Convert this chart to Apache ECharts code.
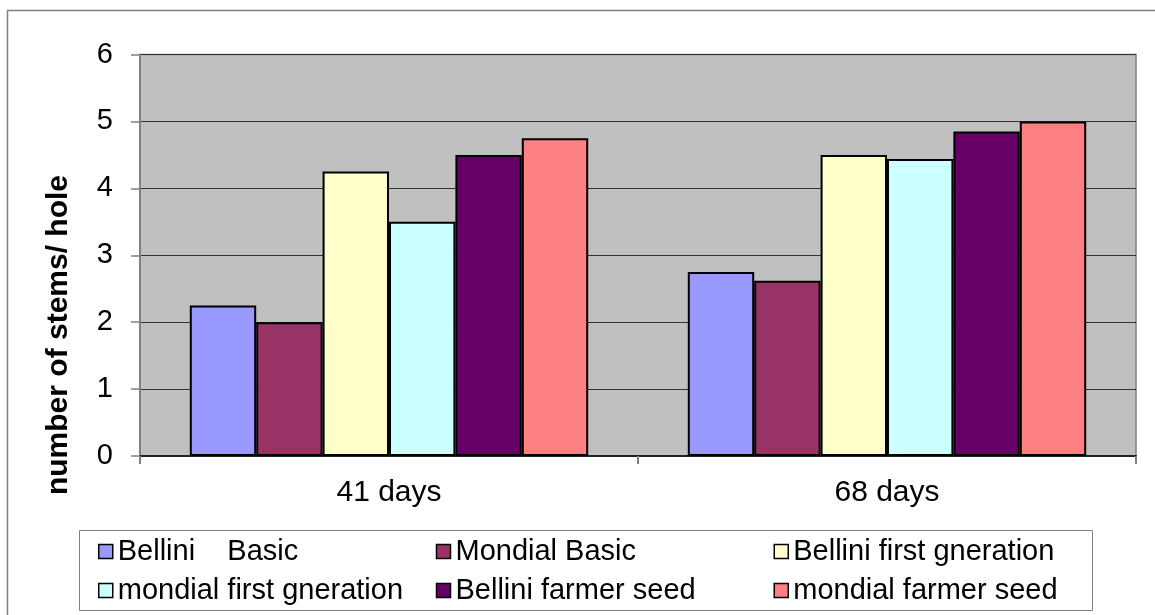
<!DOCTYPE html>
<html>
<head>
<meta charset="utf-8">
<script src="https://cdn.jsdelivr.net/npm/echarts@6/dist/echarts.min.js"></script>
<style>
 html, body { margin: 0; padding: 0; background: #fff; }
 #main { width: 1155px; height: 615px; }
</style>
</head>
<body>
<div id="main"></div>
<script>
 // data
 var categories = ['41 days', '68 days'];
 var seriesNames = ['Bellini    Basic', 'Mondial Basic', 'Bellini first gneration',
     'mondial first gneration', 'Bellini farmer seed', 'mondial farmer seed'];
 var bellini_basic = [2.25, 2.75];
 var mondial_basic = [2.0, 2.62];
 var bellini_first = [4.25, 4.5];
 var mondial_first = [3.5, 4.44];
 var bellini_farmer = [4.5, 4.85];
 var mondial_farmer = [4.75, 5.0];
 var colors = ['#9999FF', '#993366', '#FFFFCC', '#CCFFFF', '#660066', '#FF8080'];
 var yTitle = 'number of stems/ hole';

 var font = '"Liberation Sans", Arial, sans-serif';
 var allValues = [bellini_basic, mondial_basic, bellini_first, mondial_first, bellini_farmer, mondial_farmer];

 var myChart = echarts.init(document.getElementById('main'));

 var series = allValues.map(function (vals, i) {
     return {
         name: seriesNames[i],
         type: 'bar',
         data: vals,
         barGap: '0%',
         barCategoryGap: '20%',
         itemStyle: { color: colors[i], borderColor: '#000', borderWidth: 2 }
     };
 });

 var option = {
     animation: false,
     textStyle: { fontFamily: font },
     graphic: [
         { type: 'rect', z: -10, shape: { x: 7.5, y: 10.5, width: 1300, height: 700 },
           style: { fill: '#fff', stroke: '#808080', lineWidth: 1.5 } },
         { type: 'rect', z: -5, shape: { x: 79.5, y: 530.5, width: 1013, height: 80 },
           style: { fill: '#fff', stroke: '#808080', lineWidth: 1 } },
         // y axis title (sits lower than the plot centre in the original)
         { type: 'text', x: 59, y: 335, rotation: Math.PI / 2,
           style: { text: yTitle, font: 'bold 30px ' + font, fill: '#000', align: 'center', verticalAlign: 'middle' } }
     ],
     grid: {
         left: 140, right: 19, top: 54.5, bottom: 159,
         show: true, backgroundColor: '#C0C0C0', borderColor: '#808080', borderWidth: 1.5
     },
     legend: {
         left: 98, top: 537, width: 1060, padding: 0,
         itemWidth: 14, itemHeight: 14, itemGap: 10,
         icon: 'rect',
         itemStyle: { borderColor: '#000', borderWidth: 1.5 },
         textStyle: { fontSize: 29, color: '#000', fontFamily: font, width: 308, lineHeight: 29, overflow: 'none' },
         data: seriesNames
     },
     xAxis: {
         type: 'category',
         data: categories,
         axisLine: { lineStyle: { color: '#222', width: 2 } },
         axisTick: { show: true, length: 8, lineStyle: { color: '#808080', width: 2 } },
         axisLabel: { fontSize: 30, color: '#000', margin: 22, fontFamily: font }
     },
     yAxis: {
         type: 'value',
         min: 0, max: 6, interval: 1,
         axisLine: { show: true, lineStyle: { color: '#808080', width: 2 } },
         axisTick: { show: true, length: 9, lineStyle: { color: '#808080', width: 1.5 } },
         axisLabel: { fontSize: 29, color: '#000', margin: 27, fontFamily: font },
         splitLine: { show: true, lineStyle: { color: '#333', width: 1 } }
     },
     series: series
 };

 myChart.setOption(option);
</script>
</body>
</html>
